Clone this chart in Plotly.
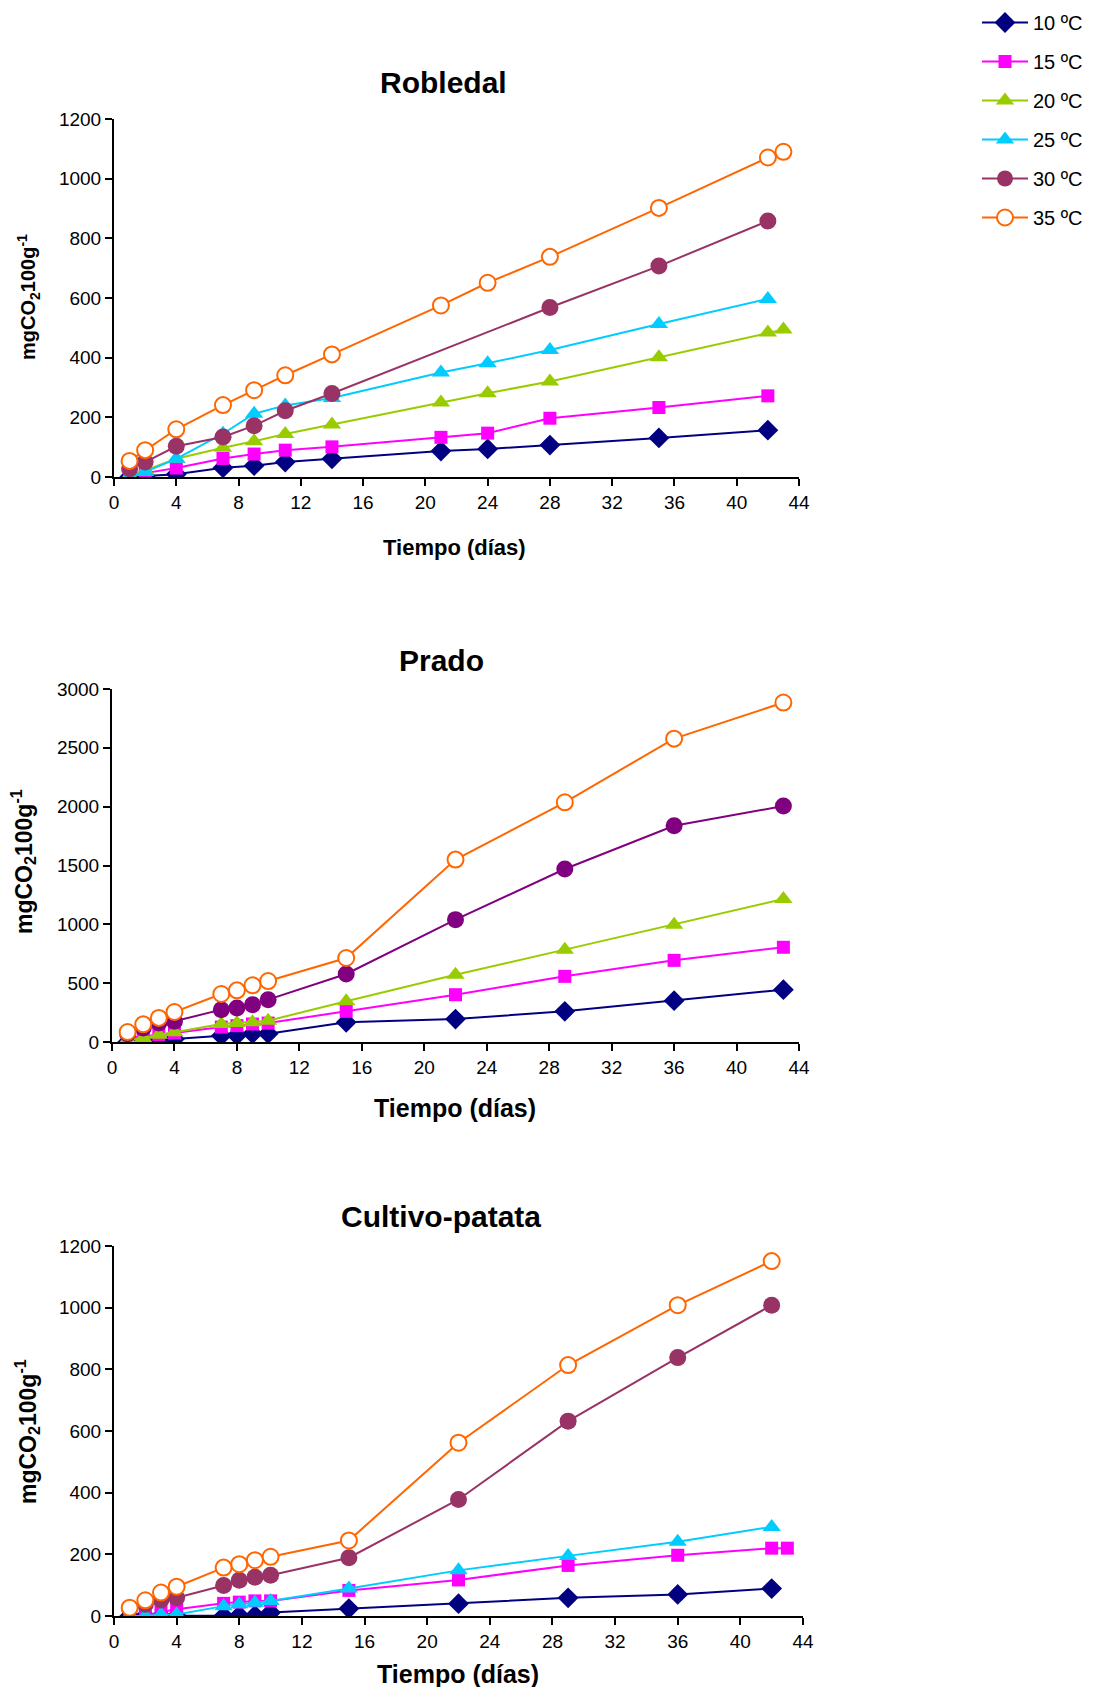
import plotly.graph_objects as go

# Page is 1096x1695; the html body has an 8px margin, so the figure itself is 1080x1679
PAGE_W, PAGE_H = 1096, 1695
OFF = 8
W, H = PAGE_W - 2 * OFF, PAGE_H - 2 * OFF

labels = ["10 ºC", "15 ºC", "20 ºC", "25 ºC", "30 ºC", "35 ºC"]

# ---------- Robledal ----------
rob_days = [1, 2, 4, 7, 9, 11, 14, 21, 24, 28, 35, 42]
rob_10 = [0, 3, 9, 31, 38, 50, 61, 87, 94, 107, 131, 157]
rob_15 = [3, 13, 30, 62, 77, 90, 101, 133, 147, 197, 233, 272]
rob_20_days = [1, 2, 4, 7, 9, 11, 14, 21, 24, 28, 35, 42, 43]
rob_20 = [6, 22, 61, 98, 120, 144, 176, 250, 281, 320, 401, 484, 494]
rob_25 = [0, 17, 61, 145, 212, 240, 265, 350, 381, 426, 513, 597]
rob_30_days = [1, 2, 4, 7, 9, 11, 14, 28, 35, 42]
rob_30 = [28, 50, 103, 134, 172, 222, 280, 568, 707, 858]
rob_35_days = [1, 2, 4, 7, 9, 11, 14, 21, 24, 28, 35, 42, 43]
rob_35 = [54, 90, 160, 241, 291, 341, 411, 575, 651, 738, 902, 1071, 1090]

# ---------- Prado ----------
pra_days = [1, 2, 3, 4, 7, 8, 9, 10, 15, 22, 29, 36, 43]
pra_10 = [0, 0, 20, 25, 54, 57, 71, 71, 167, 195, 261, 351, 445]
pra_15 = [34, 48, 62, 76, 127, 139, 153, 161, 261, 402, 558, 694, 805]
pra_20 = [20, 34, 62, 82, 153, 161, 167, 181, 346, 572, 785, 997, 1215]
pra_30 = [71, 119, 161, 176, 275, 289, 317, 360, 578, 1040, 1470, 1838, 2005]
pra_35 = [85, 150, 205, 255, 408, 439, 482, 518, 714, 1550, 2037, 2578, 2885]

# ---------- Cultivo-patata ----------
cul_days = [1, 2, 3, 4, 7, 8, 9, 10, 15, 22, 29, 36, 42]
cul_10 = [0, 0, 0, 0, 0, 2, 2, 11, 24, 40, 59, 70, 89]
cul_15_days = [1, 2, 3, 4, 7, 8, 9, 10, 15, 22, 29, 36, 42, 43]
cul_15 = [0, 0, 13, 22, 41, 45, 49, 49, 83, 117, 164, 197, 220, 220]
cul_25 = [0, 0, 5, 5, 32, 38, 43, 49, 89, 148, 195, 241, 289]
cul_30 = [24, 38, 52, 59, 99, 116, 126, 132, 189, 378, 632, 838, 1008]
cul_35 = [27, 51, 76, 95, 157, 168, 181, 192, 245, 562, 814, 1008, 1151]

colors = {"10 ºC": "#000080", "15 ºC": "#FF00FF", "20 ºC": "#99CC00",
          "25 ºC": "#00CCFF", "30 ºC": "#993366", "35 ºC": "#FF6600"}
prado_30_color = "#800080"

def marker_for(lbl, color):
    if lbl == "10 ºC":
        return dict(symbol="diamond", size=16, color=color)
    if lbl == "15 ºC":
        return dict(symbol="square", size=13, color=color)
    if lbl in ("20 ºC", "25 ºC"):
        return dict(symbol="triangle-up", size=16, color=color)
    if lbl == "30 ºC":
        return dict(symbol="circle", size=17, color=color)
    return dict(symbol="circle", size=16, color="white", line=dict(color=color, width=2))

fig = go.Figure()

def add(x, y, lbl, xa, ya, show, color=None):
    c = color or colors[lbl]
    fig.add_trace(go.Scatter(
        x=x, y=y, mode="lines+markers", name=lbl, legendgroup=lbl,
        showlegend=show, line=dict(color=c, width=2),
        marker=marker_for(lbl, c), xaxis=xa, yaxis=ya))

# Robledal (axes x / y)
add(rob_days, rob_10, "10 ºC", "x", "y", True)
add(rob_days, rob_15, "15 ºC", "x", "y", True)
add(rob_20_days, rob_20, "20 ºC", "x", "y", True)
add(rob_days, rob_25, "25 ºC", "x", "y", True)
add(rob_30_days, rob_30, "30 ºC", "x", "y", True)
add(rob_35_days, rob_35, "35 ºC", "x", "y", True)

# Prado (axes x2 / y2)
add(pra_days, pra_10, "10 ºC", "x2", "y2", False)
add(pra_days, pra_15, "15 ºC", "x2", "y2", False)
add(pra_days, pra_20, "20 ºC", "x2", "y2", False)
add(pra_days, pra_30, "30 ºC", "x2", "y2", False, prado_30_color)
add(pra_days, pra_35, "35 ºC", "x2", "y2", False)

# Cultivo-patata (axes x3 / y3)
add(cul_days, cul_10, "10 ºC", "x3", "y3", False)
add(cul_15_days, cul_15, "15 ºC", "x3", "y3", False)
add(cul_days, cul_25, "25 ºC", "x3", "y3", False)
add(cul_days, cul_30, "30 ºC", "x3", "y3", False)
add(cul_days, cul_35, "35 ºC", "x3", "y3", False)

def fx(px):
    return (px - OFF) / W

def fy(py):
    return 1 - (py - OFF) / H

def px_x(a, b):
    return [fx(a), fx(b)]

def px_y(top, bottom):
    return [fy(bottom), fy(top)]

FONT = "Liberation Sans, Arial, sans-serif"
tickfont = dict(family=FONT, size=19, color="black")

def xaxis(domain, anchor):
    return dict(domain=domain, anchor=anchor, range=[0, 44], tickmode="linear", tick0=0, dtick=4,
                showline=True, linecolor="black", linewidth=2, ticks="outside", ticklen=7,
                tickwidth=1.5, tickcolor="black", showgrid=False, zeroline=False,
                tickfont=tickfont, fixedrange=True, automargin=False)

def yaxis(domain, anchor, rng, dtick):
    return dict(domain=domain, anchor=anchor, range=rng, tickmode="linear", tick0=0, dtick=dtick,
                showline=True, linecolor="black", linewidth=2, ticks="outside", ticklen=7,
                tickwidth=1.5, tickcolor="black", showgrid=False, zeroline=False,
                tickfont=tickfont, fixedrange=True, automargin=False)

d1x, d1y = px_x(114, 799), px_y(119, 477)
d2x, d2y = px_x(112, 799), px_y(689, 1042)
d3x, d3y = px_x(114, 803), px_y(1246, 1616)

fig.update_layout(
    width=W, height=H, autosize=False,
    margin=dict(l=0, r=0, t=0, b=0, pad=0, autoexpand=False),
    paper_bgcolor="white", plot_bgcolor="white",
    xaxis=xaxis(d1x, "y"), yaxis=yaxis(d1y, "x", [0, 1200], 200),
    xaxis2=xaxis(d2x, "y2"), yaxis2=yaxis(d2y, "x2", [0, 3000], 500),
    xaxis3=xaxis(d3x, "y3"), yaxis3=yaxis(d3y, "x3", [0, 1200], 200),
    legend=dict(x=fx(977), y=fy(3), xanchor="left", yanchor="top",
                font=dict(family=FONT, size=20, color="black"),
                bgcolor="rgba(0,0,0,0)", tracegroupgap=10, itemwidth=46),
    showlegend=True,
)

titles = [("Robledal", 443, 83), ("Prado", 441, 660), ("Cultivo-patata", 441, 1216)]
for txt, xc, yc in titles:
    fig.add_annotation(text="<b>" + txt + "</b>", xref="paper", yref="paper",
                       x=fx(xc), y=fy(yc), showarrow=False, xanchor="center", yanchor="middle",
                       font=dict(family=FONT, size=30, color="black"))

xtitles = [(454, 547, 22), (455, 1108, 25), (458, 1674, 25)]
for xc, yc, sz in xtitles:
    fig.add_annotation(text="<b>Tiempo (días)</b>", xref="paper", yref="paper",
                       x=fx(xc), y=fy(yc), showarrow=False, xanchor="center", yanchor="middle",
                       font=dict(family=FONT, size=sz, color="black"))

ytitles = [(29, 297, 20), (23, 862, 23), (27, 1432, 23)]
for xc, yc, sz in ytitles:
    fig.add_annotation(text="<b>mgCO<sub>2</sub>100g<sup>-1</sup></b>", xref="paper", yref="paper",
                       x=fx(xc), y=fy(yc), showarrow=False, xanchor="center", yanchor="middle",
                       textangle=-90, font=dict(family=FONT, size=sz, color="black"))

fig.write_html("out.html")
